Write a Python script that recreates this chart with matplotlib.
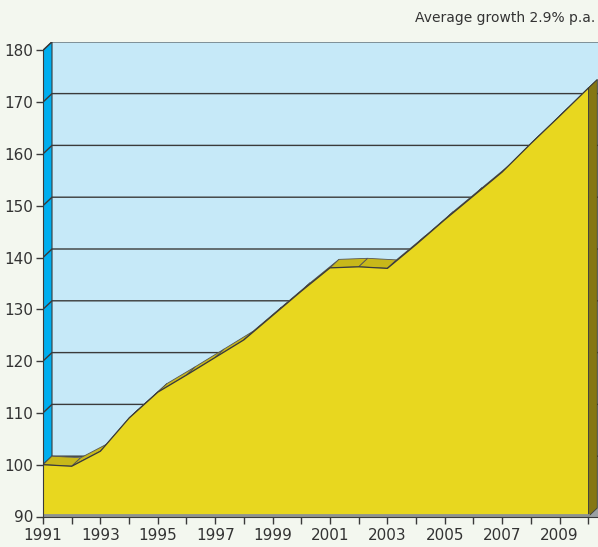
import matplotlib.pyplot as plt
from matplotlib.patches import Polygon

# index values (1991 = 100)
years = list(range(1991, 2011))
values = [100, 99.7, 102.6, 109.0, 114.0, 117.3, 120.7, 124.1, 128.8, 133.5,
          138.0, 138.2, 137.9, 142.5, 147.3, 151.9, 156.5, 162.0, 167.3, 172.7]
y_ticks = list(range(90, 181, 10))
x_labels = [str(y) if y % 2 == 1 else '' for y in years]
note = 'Average growth 2.9% p.a.'

page = '#f3f7ef'
wall = '#c6e9f8'
side = '#00aeef'
yellow = '#e8d71f'
top_yellow = '#c8b81a'
olive = '#857713'
dark = '#3a3a3a'

fig = plt.figure(figsize=(5.98, 5.47), dpi=100, facecolor=page)
W, H = 598, 547
left, bottom, right, top = 43, 30.5, 598, 42
ax = fig.add_axes([left / W, bottom / H, (right - left) / W, (H - top - bottom) / H])
ax.set_facecolor(page)

px_x = 28.7   # pixels per year
px_y = 5.18   # pixels per unit
x0, y0 = 1991, 90
xmax = x0 + (right - left) / px_x
ymax = y0 + (H - top - bottom) / px_y
ax.set_xlim(x0, xmax)
ax.set_ylim(y0, ymax)

# depth offset of the 3d look, in data units
dx = 9 / px_x
dy = 8.5 / px_y
ytop = 180

# back wall and side wall
ax.add_patch(Polygon([(x0 + dx, y0 + dy), (xmax + 1, y0 + dy), (xmax + 1, ytop + dy), (x0 + dx, ytop + dy)],
                     closed=True, facecolor=wall, edgecolor='none', zorder=1))
ax.add_patch(Polygon([(x0, y0), (x0, ytop), (x0 + dx, ytop + dy), (x0 + dx, y0 + dy)],
                     closed=True, facecolor=side, edgecolor=dark, linewidth=0.8, zorder=2))
for v in y_ticks[1:]:
    ax.plot([x0, x0 + dx, xmax + 1], [v, v + dy, v + dy], color=dark, linewidth=1.0, zorder=2)

# floor
ax.add_patch(Polygon([(x0, y0), (xmax + 1, y0), (xmax + 1, y0 + dy), (x0 + dx, y0 + dy)],
                     closed=True, facecolor='#9aa0a2', edgecolor='none', zorder=2))

# top faces of the area
for i in range(len(years) - 1):
    xa, xb = years[i], years[i + 1]
    va, vb = values[i], values[i + 1]
    ax.add_patch(Polygon([(xa, va), (xb, vb), (xb + dx, vb + dy), (xa + dx, va + dy)],
                         closed=True, facecolor=top_yellow, edgecolor='#555555', linewidth=0.6, zorder=3))

# right end face
ax.add_patch(Polygon([(years[-1], y0), (years[-1], values[-1]), (years[-1] + dx, values[-1] + dy),
                      (years[-1] + dx, y0 + dy)],
                     closed=True, facecolor=olive, edgecolor=dark, linewidth=0.6, zorder=3))

# front face of the area
front = list(zip(years, values)) + [(years[-1], y0), (years[0], y0)]
ax.add_patch(Polygon(front, closed=True, facecolor=yellow, edgecolor='none', zorder=4))
ax.plot(years, values, color=dark, linewidth=0.9, zorder=5)
ax.plot([years[-1], years[-1]], [y0, values[-1]], color=dark, linewidth=0.6, zorder=5)
ax.plot([years[0], years[-1]], [y0 + 0.35, y0 + 0.35], color='#8c9294', linewidth=2, zorder=5)

# axes styling
for s in ['top', 'right']:
    ax.spines[s].set_visible(False)
ax.spines['left'].set_bounds(y0, ytop)
ax.spines['left'].set_color(dark)
ax.spines['bottom'].set_color(dark)
ax.spines['left'].set_zorder(6)
ax.spines['bottom'].set_zorder(6)
ax.set_yticks(y_ticks)
ax.set_xticks(years)
ax.set_xticklabels(x_labels)
ax.tick_params(axis='both', direction='out', length=5, width=1, color=dark,
               labelcolor='#333333', labelsize=11)
ax.tick_params(axis='y', pad=2)
ax.tick_params(axis='x', pad=3)

fig.text(595 / W, 1 - 18 / H, note, ha='right', va='center', fontsize=10, color='#333333')

fig.savefig('out.png', dpi=100, facecolor=page)
